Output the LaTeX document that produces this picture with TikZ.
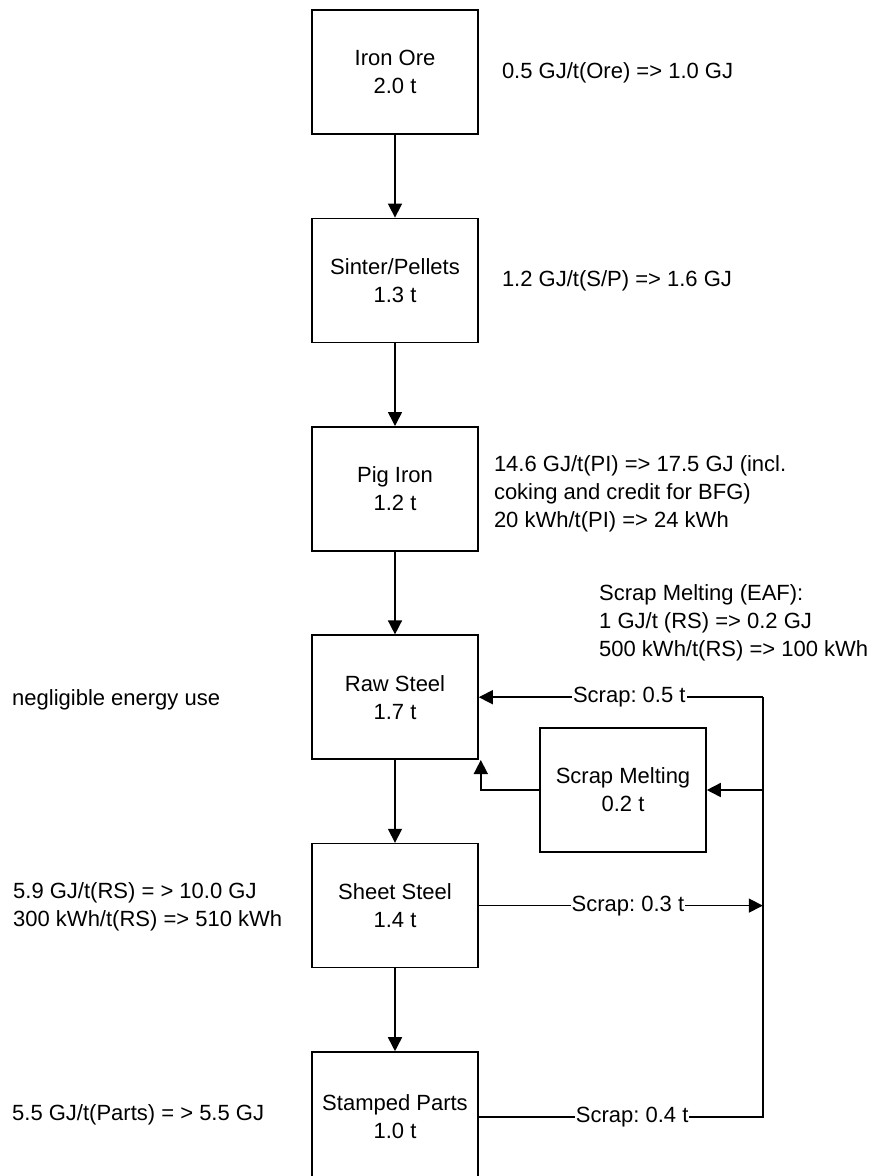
\documentclass[tikz,border=0pt]{standalone}
\usepackage{fontspec}
\setmainfont{Liberation Sans}
\usepackage{tikz}
\usetikzlibrary{shapes, arrows.meta, positioning}
\frenchspacing

\begin{document}
\begin{tikzpicture}[x=1pt, y=-1pt,
    font=\fontsize{22}{28}\selectfont,
    stage/.style={draw, line width=1.6pt, minimum width=166pt, minimum height=124pt, align=center, inner sep=0pt},
    flow/.style={line width=1.6pt, -{Triangle[length=14pt,width=14pt]}},
    link/.style={line width=1.6pt},
    scrap/.style={fill=white, inner sep=1pt},
    note/.style={anchor=west, align=left, inner sep=0pt}]
        \useasboundingbox (0,0) rectangle (876,1176);

        % Main chain
        \node[stage] (ore) at (395,72) {Iron Ore\\2.0 t};
        \node[stage, below=82.8pt of ore] (sinter) {Sinter/Pellets\\1.3 t};
        \node[stage, below=82.8pt of sinter] (pig) {Pig Iron\\1.2 t};
        \node[stage, below=82.8pt of pig] (raw) {Raw Steel\\1.7 t};
        \node[stage, below=82.8pt of raw] (sheet) {Sheet Steel\\1.4 t};
        \node[stage, minimum height=130pt, below=82.8pt of sheet] (parts) {Stamped Parts\\1.0 t};
        \node[stage] (melt) at (623,790) {Scrap Melting\\0.2 t};

        \draw[flow] (ore) -- (sinter);
        \draw[flow] (sinter) -- (pig);
        \draw[flow] (pig) -- (raw);
        \draw[flow] (raw) -- (sheet);
        \draw[flow] (sheet) -- (parts);

        % Scrap loop
        \coordinate (busTop) at ([xshift=284pt]raw.east);
        \draw[flow] (busTop) -- node[scrap, pos=0.47] {Scrap: 0.5 t} (raw.east);
        \draw[flow] (busTop |- melt.east) -- (melt.east);
        \draw[flow] (melt.west) -| ([xshift=2pt]raw.south east);
        \draw[flow] (sheet.east) -- node[scrap, pos=0.525] {Scrap: 0.3 t} (sheet.east -| busTop);
        \draw[link] (parts.east) -- node[scrap, pos=0.54] {Scrap: 0.4 t} (parts.east -| busTop) -- (busTop);

        % Energy notes
        \node[note, right=23pt of ore, yshift=-1pt] (oreNote) {0.5 GJ/t(Ore) => 1.0 GJ};
        \node[note, right=23pt of sinter] (sinterNote) {1.2 GJ/t(S/P) => 1.6 GJ};
        \node[note, right=15pt of pig, yshift=-5pt] (pigNote) {14.6 GJ/t(PI) => 17.5 GJ (incl.\\coking and credit for BFG)\\20 kWh/t(PI) => 24 kWh};
        \node[note] (meltNote) at (599,623) {Scrap Melting (EAF):\\1 GJ/t (RS) => 0.2 GJ\\500 kWh/t(RS) => 100 kWh};
        \node[note] (rawNote) at (12,700) {negligible energy use};
        \node[note] (sheetNote) at (13,907) {5.9 GJ/t(RS) = > 10.0 GJ\\300 kWh/t(RS) => 510 kWh};
        \node[note] (partsNote) at (12,1115) {5.5 GJ/t(Parts) = > 5.5 GJ};
      \end{tikzpicture}
\end{document}
